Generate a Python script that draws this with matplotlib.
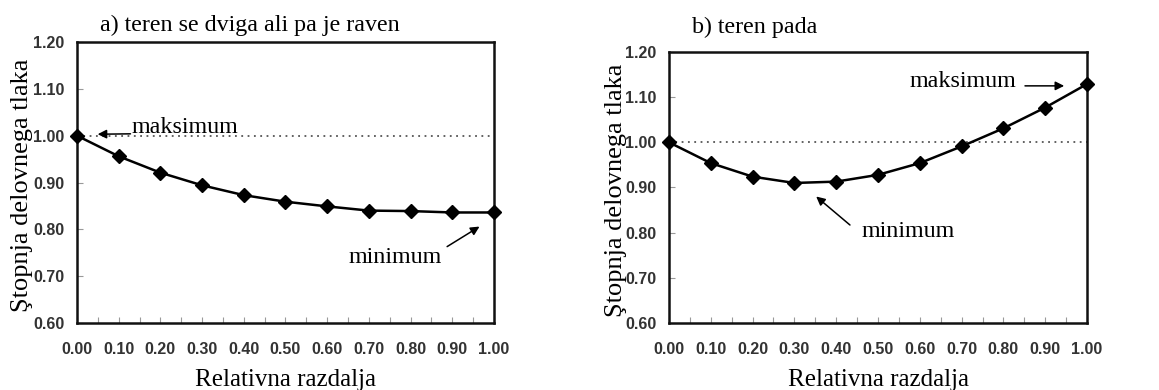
import matplotlib
matplotlib.use("Agg")
import matplotlib.pyplot as plt
from matplotlib.ticker import MultipleLocator, FormatStrFormatter

# data
razdalja = [0.0, 0.1, 0.2, 0.3, 0.4, 0.5, 0.6, 0.7, 0.8, 0.9, 1.0]
tlak_a = [1.000, 0.956, 0.921, 0.894, 0.873, 0.859, 0.849, 0.840, 0.839, 0.836, 0.836]
tlak_b = [1.000, 0.954, 0.924, 0.910, 0.913, 0.928, 0.954, 0.991, 1.031, 1.077, 1.129]
naslovi = ["a) teren se dviga ali pa je raven", "b) teren pada"]
ylabel = "Ştopnja delovnega tlaka"
xlabel = "Relativna razdalja"

SERIF = "Liberation Serif"
SANS = "Liberation Sans"

fig = plt.figure(figsize=(11.59, 3.90), dpi=100)
ax1 = fig.add_axes([0.0664, 0.1718, 0.3598, 0.7205])
ax2 = fig.add_axes([0.5772, 0.1718, 0.3607, 0.6949])


def style(ax, y, title, title_y, lab_x):
    ax.axhline(1.0, color="#555555", linestyle=(0, (1, 2.5)), linewidth=1.3, zorder=1)
    ax.plot(razdalja, y, color="black", linewidth=1.8, marker="D", markersize=7.5,
            markerfacecolor="black", zorder=3, clip_on=False)
    ax.set_xlim(0, 1)
    ax.set_ylim(0.6, 1.2)
    ax.xaxis.set_major_locator(MultipleLocator(0.1))
    ax.xaxis.set_minor_locator(MultipleLocator(0.05))
    ax.yaxis.set_major_locator(MultipleLocator(0.1))
    ax.xaxis.set_major_formatter(FormatStrFormatter("%.2f"))
    ax.yaxis.set_major_formatter(FormatStrFormatter("%.2f"))
    ax.tick_params(axis="both", which="both", direction="in", color="#999999",
                   length=4, width=0.8, labelsize=11.5, labelcolor="#333333")
    ax.tick_params(axis="x", which="major", pad=14)
    ax.tick_params(axis="y", which="major", pad=9)
    for lbl in ax.get_xticklabels() + ax.get_yticklabels():
        lbl.set_fontfamily(SANS)
        lbl.set_fontweight("bold")
    for s in ax.spines.values():
        s.set_linewidth(1.8)
        s.set_color("#111111")
    ax.set_xlabel(xlabel, fontfamily=SERIF, fontsize=18, labelpad=8)
    ax.set_ylabel(ylabel, fontfamily=SERIF, fontsize=19)
    ax.yaxis.set_label_coords(lab_x, 0.49)
    ax.text(0.055, title_y, title, transform=ax.transAxes, fontfamily=SERIF,
            fontsize=17.3, ha="left", va="center")


style(ax1, tlak_a, naslovi[0], 1.06, -0.105)
style(ax2, tlak_b, naslovi[1], 1.092, -0.10)

arrow = dict(arrowstyle="-|>", color="black", lw=1.1, mutation_scale=13)
ann = dict(fontfamily=SERIF, fontsize=17.3, ha="center", va="center")

ax1.annotate("", xy=(0.043, 1.003), xytext=(0.135, 1.004), arrowprops=arrow)
ax1.text(0.26, 1.017, "maksimum", **ann)
ax1.annotate("", xy=(0.971, 0.809), xytext=(0.882, 0.760), arrowprops=arrow)
ax1.text(0.763, 0.739, "minimum", **ann)

ax2.annotate("", xy=(0.952, 1.125), xytext=(0.845, 1.125), arrowprops=arrow)
ax2.text(0.703, 1.134, "maksimum", **ann)
ax2.annotate("", xy=(0.347, 0.884), xytext=(0.438, 0.813), arrowprops=arrow)
ax2.text(0.572, 0.802, "minimum", **ann)

fig.savefig("out.png", dpi=100)
